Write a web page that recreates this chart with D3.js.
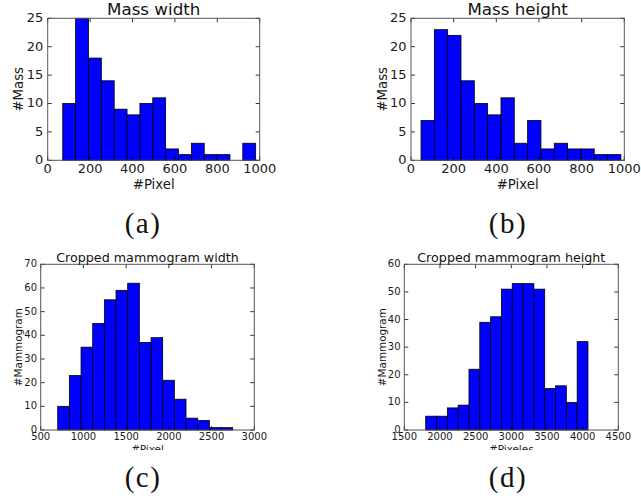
<!DOCTYPE html>
<html>
<head>
<meta charset="utf-8">
<script src="https://cdn.jsdelivr.net/npm/d3@7"></script>
<style>
  body { margin: 0; background: #fff; }
  svg { display: block; }
</style>
</head>
<body>
<svg id="fig" width="641" height="496"></svg>
<script>
// Histogram counts per bin and the value range covered by the bins
const massWidthCounts  = [10, 25, 18, 14, 9, 8, 10, 11, 2, 1, 3, 1, 1, 0, 3];
const massWidthRange   = [71, 981];
const massHeightCounts = [7, 23, 22, 14, 10, 8, 11, 3, 7, 2, 3, 2, 2, 1, 1];
const massHeightRange  = [47, 984];
const cropWidthCounts  = [10, 23, 35, 45, 55, 59, 62, 37, 39, 21, 13, 5, 4, 1, 1];
const cropWidthRange   = [699, 2747];
const cropHeightCounts = [5, 5, 8, 9, 22, 39, 41, 51, 53, 53, 51, 15, 16, 10, 32];
const cropHeightRange  = [1800, 4075];

// Tick values
const massXTicks       = [0, 200, 400, 600, 800, 1000];
const massYTicks       = [0, 5, 10, 15, 20, 25];
const cropWidthXTicks  = [500, 1000, 1500, 2000, 2500, 3000];
const cropWidthYTicks  = [0, 10, 20, 30, 40, 50, 60, 70];
const cropHeightXTicks = [1500, 2000, 2500, 3000, 3500, 4000, 4500];
const cropHeightYTicks = [0, 10, 20, 30, 40, 50, 60];

// Texts
const titles   = ["Mass width", "Mass height", "Cropped mammogram width", "Cropped mammogram height"];
const xLabels  = ["#Pixel", "#Pixel", "#Pixel", "#Pixeles"];
const yLabels  = ["#Mass", "#Mass", "#Mammogram", "#Mammogram"];
const captions = ["(a)", "(b)", "(c)", "(d)"];

const svg = d3.select("#fig");
svg.append("rect").attr("width", 641).attr("height", 496).attr("fill", "#fff");

// Bottom row sub-figures are cut off just below the tick labels
svg.append("defs").append("clipPath").attr("id", "rowClip")
  .append("rect").attr("x", 0).attr("y", 0).attr("width", 641).attr("height", 450);

// Layout of each panel
const panels = [
  { counts: massWidthCounts, range: massWidthRange, xTicks: massXTicks, yTicks: massYTicks,
    x0: 47.7, x1: 259.7, y0: 18.3, y1: 160.3,
    titleY: 15, titleSize: 16.7, tickSize: 13, tickBase: 172.7, tickGap: 4.4,
    labelSize: 13.3, xLabelBase: 189, yLabelX: 23.3,
    capX: 143, capY: 233, clip: false },
  { counts: massHeightCounts, range: massHeightRange, xTicks: massXTicks, yTicks: massYTicks,
    x0: 411, x1: 624.3, y0: 18.3, y1: 160.3,
    titleY: 15, titleSize: 16.7, tickSize: 13, tickBase: 172.7, tickGap: 4.4,
    labelSize: 13.3, xLabelBase: 189, yLabelX: 386.7,
    capX: 508, capY: 233, clip: false },
  { counts: cropWidthCounts, range: cropWidthRange, xTicks: cropWidthXTicks, yTicks: cropWidthYTicks,
    x0: 40.7, x1: 254.3, y0: 264.3, y1: 430,
    titleY: 261.5, titleSize: 12.7, tickSize: 10, tickBase: 440, tickGap: 3.7,
    labelSize: 10.4, xLabelBase: 453, yLabelX: 22,
    capX: 143, capY: 487, clip: true },
  { counts: cropHeightCounts, range: cropHeightRange, xTicks: cropHeightXTicks, yTicks: cropHeightYTicks,
    x0: 404.3, x1: 618.3, y0: 264.3, y1: 430,
    titleY: 261.5, titleSize: 12.7, tickSize: 10, tickBase: 440, tickGap: 3.7,
    labelSize: 10.4, xLabelBase: 453, yLabelX: 385.5,
    capX: 508, capY: 487, clip: true }
];

const sans = "'DejaVu Sans', sans-serif";

panels.forEach((p, i) => {
  const x = d3.scaleLinear()
    .domain(d3.extent(p.xTicks)).range([p.x0, p.x1]);
  const y = d3.scaleLinear()
    .domain(d3.extent(p.yTicks)).range([p.y1, p.y0]);

  // Equal-width bins spanning the histogram range
  const n = p.counts.length;
  const step = (p.range[1] - p.range[0]) / n;
  const bins = p.counts.map((c, k) => ({
    lo: p.range[0] + k * step,
    hi: p.range[0] + (k + 1) * step,
    count: c
  }));

  const g = svg.append("g");
  if (p.clip) g.attr("clip-path", "url(#rowClip)");

  // Bars
  g.append("g").selectAll("rect")
    .data(bins.filter(b => b.count > 0))
    .join("rect")
    .attr("x", d => x(d.lo))
    .attr("y", d => y(d.count))
    .attr("width", d => x(d.hi) - x(d.lo))
    .attr("height", d => y(0) - y(d.count))
    .attr("fill", "#0000ff")
    .attr("stroke", "#000")
    .attr("stroke-width", 0.8);

  // Inward ticks on all four sides
  const tickLen = 4;
  const tk = g.append("g").attr("stroke", "#000").attr("stroke-width", 0.8);
  p.xTicks.forEach(v => {
    tk.append("line").attr("x1", x(v)).attr("x2", x(v)).attr("y1", p.y1).attr("y2", p.y1 - tickLen);
    tk.append("line").attr("x1", x(v)).attr("x2", x(v)).attr("y1", p.y0).attr("y2", p.y0 + tickLen);
  });
  p.yTicks.forEach(v => {
    tk.append("line").attr("x1", p.x0).attr("x2", p.x0 + tickLen).attr("y1", y(v)).attr("y2", y(v));
    tk.append("line").attr("x1", p.x1).attr("x2", p.x1 - tickLen).attr("y1", y(v)).attr("y2", y(v));
  });

  // Axes frame
  g.append("rect")
    .attr("x", p.x0).attr("y", p.y0)
    .attr("width", p.x1 - p.x0).attr("height", p.y1 - p.y0)
    .attr("fill", "none").attr("stroke", "#555").attr("stroke-width", 1);

  // Tick labels
  g.append("g").selectAll("text")
    .data(p.xTicks).join("text")
    .attr("x", d => x(d)).attr("y", p.tickBase)
    .attr("text-anchor", "middle")
    .attr("font-family", sans).attr("font-size", p.tickSize).attr("fill", "#1a1a1a")
    .text(d => d);
  g.append("g").selectAll("text")
    .data(p.yTicks).join("text")
    .attr("x", p.x0 - p.tickGap).attr("y", d => y(d) + p.tickSize * 0.3)
    .attr("text-anchor", "end")
    .attr("font-family", sans).attr("font-size", p.tickSize).attr("fill", "#1a1a1a")
    .text(d => d);

  // Title and axis labels
  g.append("text")
    .attr("x", (p.x0 + p.x1) / 2).attr("y", p.titleY)
    .attr("text-anchor", "middle")
    .attr("font-family", sans).attr("font-size", p.titleSize).attr("fill", "#111")
    .text(titles[i]);
  g.append("text")
    .attr("x", (p.x0 + p.x1) / 2).attr("y", p.xLabelBase)
    .attr("text-anchor", "middle")
    .attr("font-family", sans).attr("font-size", p.labelSize).attr("fill", "#1a1a1a")
    .text(xLabels[i]);
  g.append("text")
    .attr("transform", `translate(${p.yLabelX},${(p.y0 + p.y1) / 2}) rotate(-90)`)
    .attr("text-anchor", "middle")
    .attr("font-family", sans).attr("font-size", p.labelSize).attr("fill", "#1a1a1a")
    .text(yLabels[i]);

  // Sub-figure caption
  svg.append("text")
    .attr("x", p.capX).attr("y", p.capY)
    .attr("text-anchor", "middle")
    .attr("font-family", "'Liberation Serif', 'DejaVu Serif', serif")
    .attr("font-size", 29)
    .attr("letter-spacing", 1.5)
    .attr("fill", "#111")
    .text(captions[i]);
});
</script>
</body>
</html>
